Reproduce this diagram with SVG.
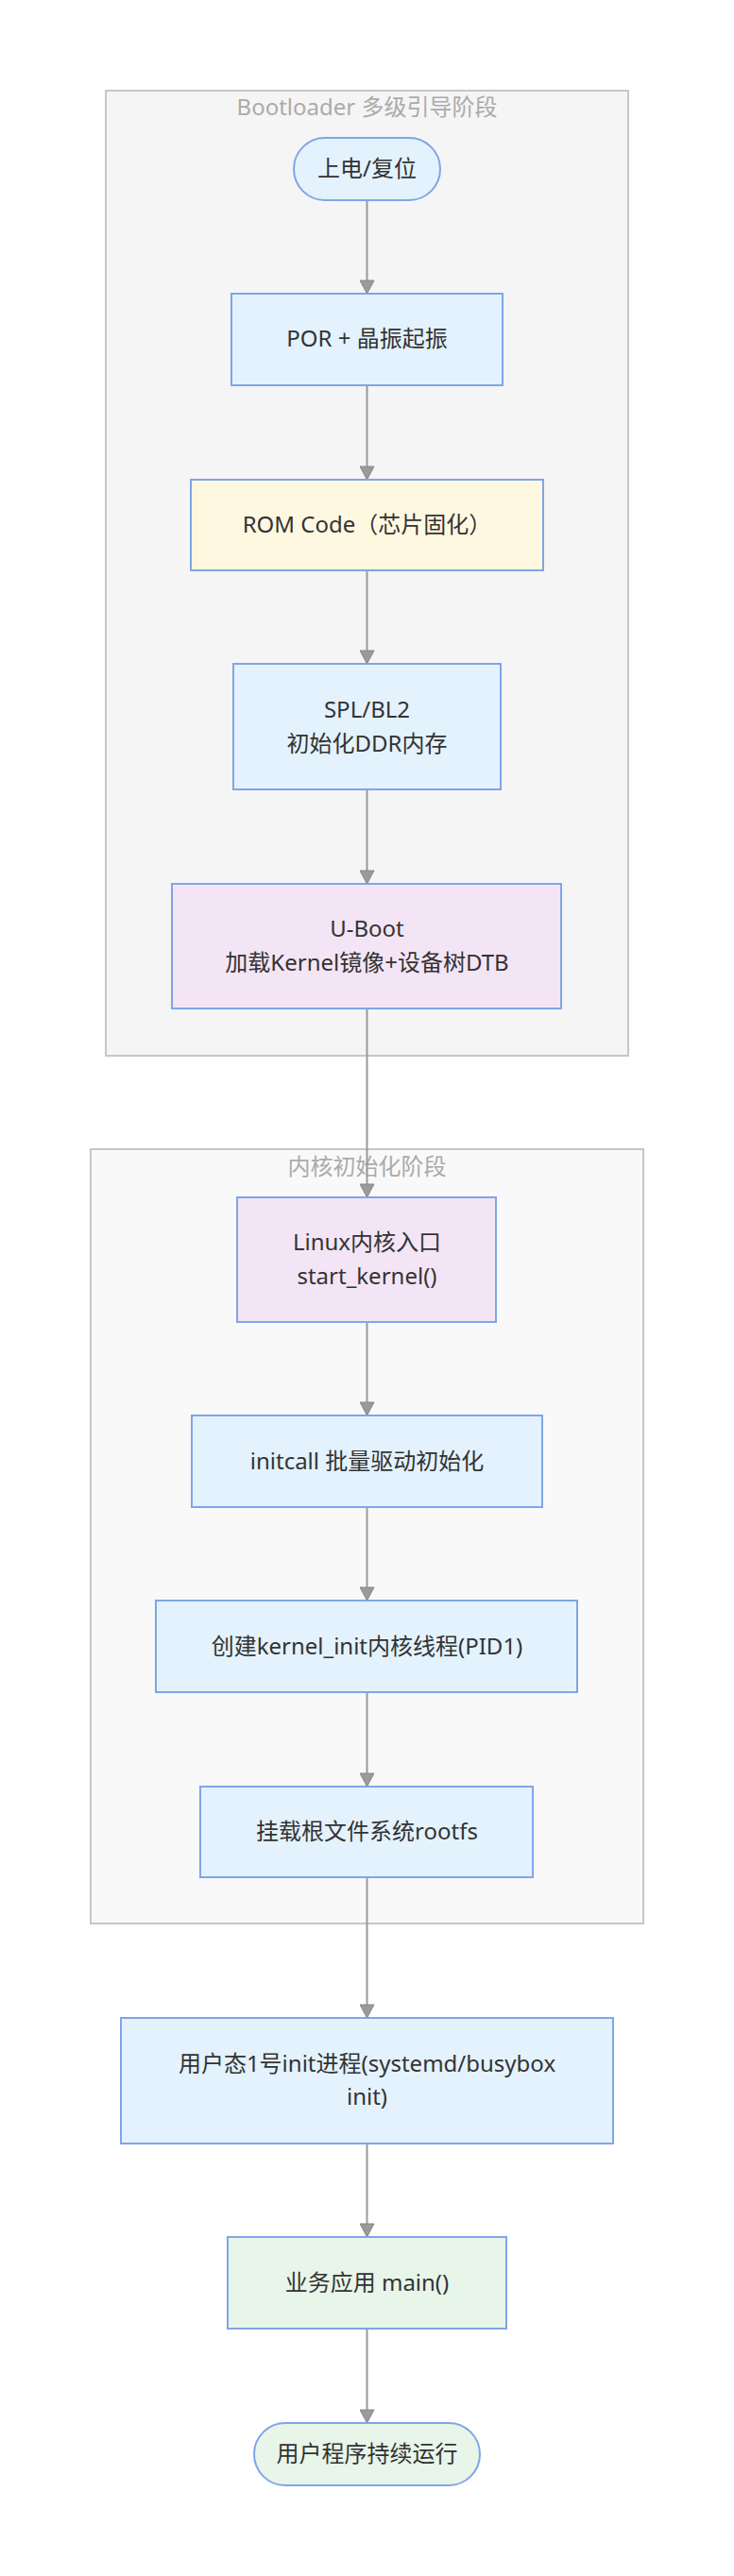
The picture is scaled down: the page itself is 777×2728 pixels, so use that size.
<svg xmlns="http://www.w3.org/2000/svg" width="777" height="2728" viewBox="0 0 777 2728">
<style>
.cl{stroke:#c6c6c6;stroke-width:2}
.ct{font-family:"Noto Sans","Noto Sans CJK SC",sans-serif;font-size:24px;fill:#ababab;text-anchor:middle}
.n{stroke:#7ea6e8;stroke-width:2}
.blue{fill:#e3f2fd}
.yel{fill:#fff8e1}
.pur{fill:#f3e5f5}
.grn{fill:#e8f5e9}
.t{font-family:"Noto Sans","Noto Sans CJK SC",sans-serif;font-size:24px;fill:#333;text-anchor:middle}
.e{stroke:#9a9a9a;stroke-width:2;fill:none;marker-end:url(#arr)}
</style>
<defs>
<marker id="arr" viewBox="0 0 16 16" refX="15" refY="8" markerWidth="16" markerHeight="16" markerUnits="userSpaceOnUse" orient="auto">
<path d="M1,0.5 L15,8 L1,15.5 z" fill="#9a9a9a" stroke="#888" stroke-width="1"/>
</marker>
</defs>
<rect x="0" y="0" width="777" height="2728" fill="#ffffff"/>
<g id="cluster-bootloader">
<rect class="cl" x="112" y="96" width="553" height="1022" fill="#f5f5f5"/>
<text class="ct" x="388.5" y="122">Bootloader 多级引导阶段</text>
</g>
<g id="cluster-kernel">
<rect class="cl" x="96" y="1217" width="585" height="820" fill="#f9f9f9"/>
<text class="ct" x="388.5" y="1244">内核初始化阶段</text>
</g>
<g id="connectors">
<path class="e" d="M388.5,212 L388.5,311"/>
<path class="e" d="M388.5,408 L388.5,508"/>
<path class="e" d="M388.5,604 L388.5,703"/>
<path class="e" d="M388.5,836 L388.5,936"/>
<path class="e" d="M388.5,1068 L388.5,1268"/>
<path class="e" d="M388.5,1400 L388.5,1499"/>
<path class="e" d="M388.5,1596 L388.5,1695"/>
<path class="e" d="M388.5,1792 L388.5,1892"/>
<path class="e" d="M388.5,1988 L388.5,2137"/>
<path class="e" d="M388.5,2270 L388.5,2369"/>
<path class="e" d="M388.5,2466 L388.5,2566"/>
</g>
<g id="node-start">
<rect class="n blue" x="311" y="146" width="155" height="66" rx="33" ry="33"/>
<text class="t" x="388.5" y="187">上电/复位</text>
</g>
<g id="node-por">
<rect class="n blue" x="245" y="311" width="287" height="97"/>
<text class="t" x="388.5" y="367">POR + 晶振起振</text>
</g>
<g id="node-rom">
<rect class="n yel" x="202" y="508" width="373" height="96"/>
<text class="t" x="388.5" y="564">ROM Code（芯片固化）</text>
</g>
<g id="node-spl">
<rect class="n blue" x="247" y="703" width="283" height="133"/>
<text class="t" x="388.5" y="760">SPL/BL2</text>
<text class="t" x="388.5" y="796">初始化DDR内存</text>
</g>
<g id="node-uboot">
<rect class="n pur" x="182" y="936" width="412" height="132"/>
<text class="t" x="388.5" y="992">U-Boot</text>
<text class="t" x="388.5" y="1028">加载Kernel镜像+设备树DTB</text>
</g>
<g id="node-linux">
<rect class="n pur" x="251" y="1268" width="274" height="132"/>
<text class="t" x="388.5" y="1324">Linux内核入口</text>
<text class="t" x="388.5" y="1360">start_kernel()</text>
</g>
<g id="node-initcall">
<rect class="n blue" x="203" y="1499" width="371" height="97"/>
<text class="t" x="388.5" y="1556">initcall 批量驱动初始化</text>
</g>
<g id="node-kernelinit">
<rect class="n blue" x="165" y="1695" width="446" height="97"/>
<text class="t" x="388.5" y="1752">创建kernel_init内核线程(PID1)</text>
</g>
<g id="node-rootfs">
<rect class="n blue" x="212" y="1892" width="352" height="96"/>
<text class="t" x="388.5" y="1948">挂载根文件系统rootfs</text>
</g>
<g id="node-userinit">
<rect class="n blue" x="128" y="2137" width="521" height="133"/>
<text class="t" x="388.5" y="2194">用户态1号init进程(systemd/busybox</text>
<text class="t" x="388.5" y="2229">init)</text>
</g>
<g id="node-main">
<rect class="n grn" x="241" y="2369" width="295" height="97"/>
<text class="t" x="388.5" y="2426">业务应用 main()</text>
</g>
<g id="node-end">
<rect class="n grn" x="269" y="2566" width="239" height="66" rx="33" ry="33"/>
<text class="t" x="388.5" y="2607">用户程序持续运行</text>
</g>
</svg>
